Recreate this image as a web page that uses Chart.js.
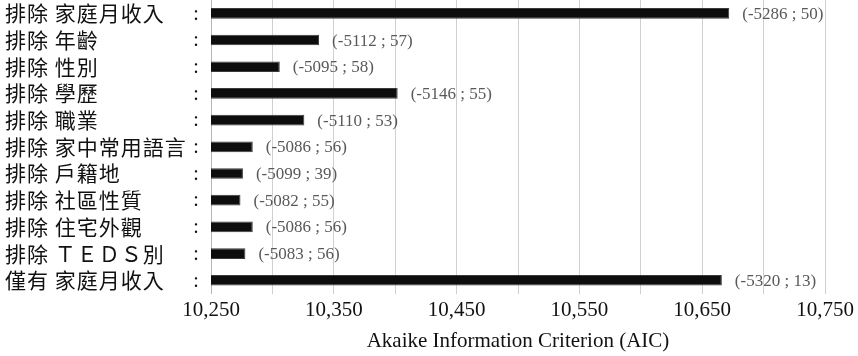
<!DOCTYPE html>
<html>
<head>
<meta charset="utf-8">
<script src="https://cdn.jsdelivr.net/npm/chart.js@4/dist/chart.umd.min.js"></script>
<style>
    html, body { margin: 0; padding: 0; background: #fff; }
</style>
</head>
<body>
<canvas id="aic-chart" width="858" height="356"></canvas>
<script>
let modelos = [
    "排除 家庭月收入",
    "排除 年齡",
    "排除 性別",
    "排除 學歷",
    "排除 職業",
    "排除 家中常用語言",
    "排除 戶籍地",
    "排除 社區性質",
    "排除 住宅外觀",
    "排除 ＴＥＤＳ別",
    "僅有 家庭月收入"
];
let aic = [10672, 10338, 10306, 10402, 10326, 10284, 10276, 10274, 10284, 10278, 10666];
let logLik = [-5286, -5112, -5095, -5146, -5110, -5086, -5099, -5082, -5086, -5083, -5320];
let nParam = [50, 57, 58, 55, 53, 56, 39, 55, 56, 56, 13];
let xTicks = [10250, 10350, 10450, 10550, 10650, 10750];

// etiquetas del eje y, los dos puntos y el texto al final de cada barra
const etiquetas = {
    id: 'etiquetas',
    afterDatasetsDraw(chart) {
        var ctx = chart.ctx;
        var meta = chart.getDatasetMeta(0);
        ctx.save();
        ctx.font = '17px "Liberation Serif"';
        ctx.fillStyle = '#595959';
        ctx.textBaseline = 'middle';
        meta.data.forEach(function (bar, i) {
            ctx.fillText('(' + logLik[i] + ' ; ' + nParam[i] + ')', bar.x + 13, bar.y + 1);
        });
        ctx.restore();
    },
    afterDraw(chart) {
        var ctx = chart.ctx;
        var ejeY = chart.scales.y;
        ctx.save();
        ctx.fillStyle = '#111';
        ctx.textBaseline = 'middle';
        ctx.font = '21px "Noto Sans CJK TC"';
        ctx.letterSpacing = '1px';
        modelos.forEach(function (m, i) {
            ctx.fillText(m, 5, ejeY.getPixelForTick(i));
        });
        ctx.letterSpacing = '0px';
        ctx.textAlign = 'center';
        ctx.font = '20px "Liberation Serif"';
        modelos.forEach(function (m, i) {
            ctx.fillText(':', 196, ejeY.getPixelForTick(i) + 1);
        });
        ctx.restore();
    }
};

new Chart(document.getElementById("aic-chart"), {
    type: 'bar',
    data: {
        labels: modelos,
        datasets: [{
            data: aic,
            backgroundColor: '#0d0d0d',
            borderColor: '#3a3a3a',
            borderWidth: 1,
            barPercentage: 0.4,
            categoryPercentage: 1
        }]
    },
    options: {
        indexAxis: 'y',
        responsive: false,
        animation: false,
        devicePixelRatio: 1,
        layout: { padding: { left: 0, right: 33, top: 0, bottom: 1 } },
        plugins: {
            legend: { display: false },
            tooltip: { enabled: false }
        },
        scales: {
            x: {
                min: 10250,
                max: 10750,
                grid: { color: '#d0d0d0', drawTicks: false },
                border: { display: false },
                ticks: {
                    stepSize: 50,
                    autoSkip: false,
                    maxRotation: 0,
                    padding: 4,
                    color: '#111',
                    font: { family: '"Liberation Serif"', size: 21 },
                    callback: function (v) {
                        return xTicks.includes(v) ? v.toLocaleString('en-US') : '';
                    }
                },
                title: {
                    display: true,
                    text: 'Akaike Information Criterion (AIC)',
                    color: '#111',
                    font: { family: '"Liberation Serif"', size: 21 },
                    padding: { top: 2, bottom: 1 }
                }
            },
            y: {
                grid: { display: false },
                border: { display: true, color: '#b5b5b5' },
                ticks: { display: false },
                afterFit: function (scale) { scale.width = 211; }
            }
        }
    },
    plugins: [etiquetas]
});
</script>
</body>
</html>
